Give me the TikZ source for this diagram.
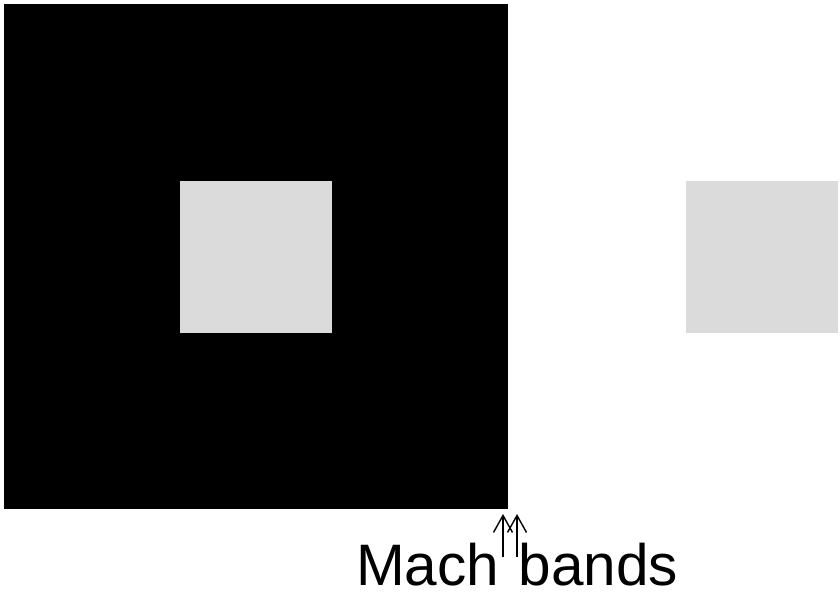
\documentclass[tikz,border=0pt]{standalone}
\usepackage{fontspec}
\setmainfont{Liberation Sans}
\usetikzlibrary{arrows.meta}
\definecolor{patchgrey}{RGB}{219,219,219}
\begin{document}
\begin{tikzpicture}[x=1pt,y=-1pt,
  patch/.style={fill=#1,draw=none,inner sep=0pt,outer sep=0pt},
  pointer/.style={line width=1.4pt,-{Straight Barb[length=17pt,width=19pt,line width=1.4pt]}}]
  \useasboundingbox (0,0) rectangle (840,592);
  % dark surround
  \node[patch=black,minimum width=504pt,minimum height=505pt,anchor=north west] (outer) at (4,4) {};
  % grey patches: one on black, one on white
  \node[patch=patchgrey,minimum size=152pt,anchor=north west] (inner) at (180,181) {};
  \node[patch=patchgrey,minimum size=152pt,anchor=north west] (right) at (686,181) {};
  % label
  \node[anchor=base west,inner sep=0pt,font=\fontsize{58.5}{60}\selectfont] (label) at (356,585) {Mach\hspace{3pt} bands};
  % pointers to the band edge
  \coordinate (tailA) at (503,557);
  \coordinate (headA) at (503,514);
  \coordinate (tailB) at (517,557);
  \coordinate (headB) at (517,514);
  \draw[pointer] (tailA) -- (headA);
  \draw[pointer] (tailB) -- (headB);
\end{tikzpicture}
\end{document}
